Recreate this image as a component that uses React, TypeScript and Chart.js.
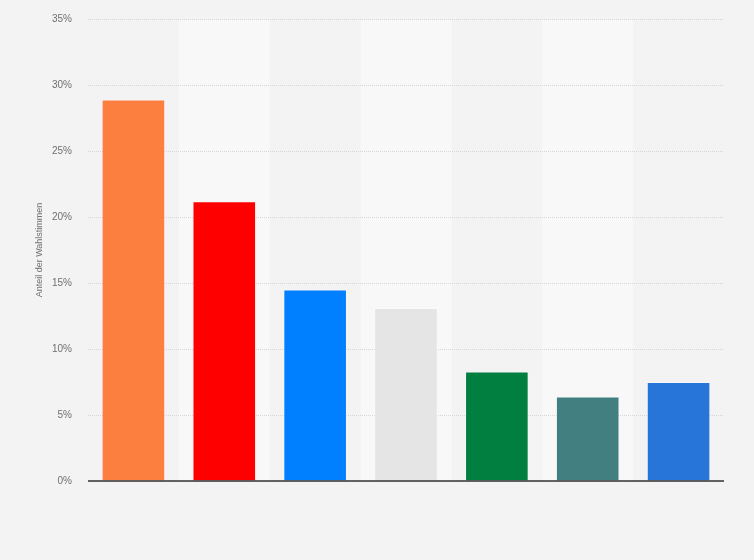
import React, { useEffect, useRef } from "react";
import { Chart, registerables } from "chart.js";

Chart.register(...registerables);

const categories = ["Partei 1", "Partei 2", "Partei 3", "Partei 4", "Partei 5", "Partei 6", "Partei 7"];
const shares = [28.9, 21.2, 14.5, 13.1, 8.3, 6.4, 7.5];
const barColors = ["#fd7f40", "#ff0000", "#0080ff", "#e5e5e5", "#007f40", "#417f80", "#2775d9"];
const yTicks = [0, 5, 10, 15, 20, 25, 30, 35];
const yTitle = "Anteil der Wahlstimmen";

const FONT = "'Liberation Sans', Arial, Helvetica, sans-serif";

const columnShading = {
  id: "columnShading",
  beforeDraw(chart: any) {
    const { ctx, chartArea, scales } = chart;
    const x = scales.x;
    const n = chart.data.labels.length;
    const w = (chartArea.right - chartArea.left) / n;
    ctx.save();
    ctx.fillStyle = "#f8f8f8";
    for (let i = 1; i < n; i += 2) {
      const c = x.getPixelForValue(i);
      ctx.fillRect(c - w / 2, chartArea.top, w, chartArea.bottom - chartArea.top);
    }
    ctx.restore();
  },
  afterDatasetsDraw(chart: any) {
    const { ctx, chartArea, scales } = chart;
    const y0 = scales.y.getPixelForValue(0);
    ctx.save();
    ctx.strokeStyle = "#333333";
    ctx.lineWidth = 1.5;
    ctx.beginPath();
    ctx.moveTo(chartArea.left, y0);
    ctx.lineTo(chartArea.right, y0);
    ctx.stroke();
    ctx.restore();
  },
};

export default function App() {
  const ref = useRef<HTMLCanvasElement | null>(null);
  useEffect(() => {
    if (!ref.current) return;
    const chart = new Chart(ref.current, {
      type: "bar",
      data: {
        labels: categories,
        datasets: [
          {
            data: shares,
            backgroundColor: barColors,
            borderColor: "rgba(255,255,255,0.35)",
            borderWidth: 1,
            categoryPercentage: 1,
            barPercentage: 0.7,
          },
        ],
      },
      options: {
        animation: false,
        responsive: false,
        layout: { padding: { left: 0, right: 30, top: 19, bottom: 79 } },
        plugins: { legend: { display: false }, tooltip: { enabled: false } },
        scales: {
          x: { display: false },
          y: {
            min: 0,
            max: 35,
            afterFit: (s: any) => {
              s.width = 88;
              s.paddingTop = 0;
              s.paddingBottom = 0;
            },
            afterBuildTicks: (s: any) => {
              s.ticks = yTicks.map((v) => ({ value: v }));
            },
            ticks: {
              padding: 16,
              color: "#707070",
              font: { family: FONT, size: 10 },
              callback: (v: any) => v + "%",
            },
            grid: { color: "#d6d6d6", drawTicks: false, lineWidth: 1 },
            border: { display: false, dash: [1, 1] },
            title: {
              display: true,
              text: yTitle,
              color: "#707070",
              font: { family: FONT, size: 9 },
              padding: { top: 34, bottom: 0 },
            },
          },
        },
      },
      plugins: [columnShading],
    });
    return () => chart.destroy();
  }, []);
  return (
    <div style={{ position: "fixed", left: 0, top: 0, width: 754, height: 560, background: "#f3f3f3" }}>
      <canvas ref={ref} width={754} height={560} style={{ display: "block" }} />
    </div>
  );
}
